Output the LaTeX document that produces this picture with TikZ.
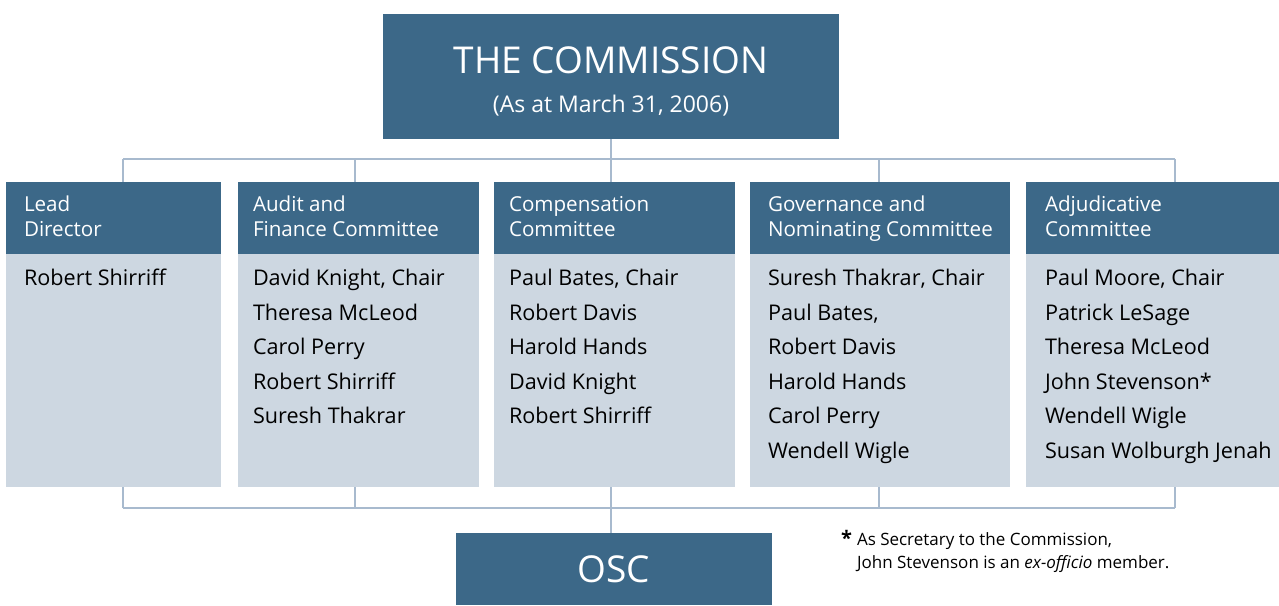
\documentclass[tikz,border=0pt]{standalone}
\usepackage{fontspec}
\setmainfont{Open Sans}
\usetikzlibrary{calc}
\definecolor{boxblue}{RGB}{60,104,136}
\definecolor{boxlight}{RGB}{205,215,225}
\definecolor{linkblue}{RGB}{168,186,206}
\newcommand\hstrut{\rule{0pt}{16pt}}
\newcommand\bstrut{\rule{0pt}{17pt}}
\begin{document}
\begin{tikzpicture}[x=1pt,y=-1pt,
  every node/.style={inner sep=0pt,outer sep=0pt},
  darkbox/.style={fill=boxblue,draw=none,anchor=north west},
  lightbox/.style={fill=boxlight,draw=none,anchor=north west},
  hdrtext/.style={text=white,align=left,anchor=north west,
    font=\fontsize{20.6pt}{25pt}\selectfont},
  bodytext/.style={text=black,align=left,anchor=north west,
    font=\fontsize{21.6pt}{34.6pt}\selectfont},
  link/.style={draw=linkblue,line width=2pt}]
\useasboundingbox (0,0) rectangle (1279,605);

% the Commission
\node[darkbox,minimum width=456pt,minimum height=125pt] (comm) at (383,14) {};
\node[text=white,anchor=base,font=\fontsize{37pt}{40pt}\selectfont] (commtitle) at (611,73) {THE COMMISSION};
\node[text=white,anchor=base,font=\fontsize{23pt}{28pt}\selectfont] (commdate) at (611,112) {(As at March 31, 2006)};

% column headers
\node[darkbox,minimum width=215pt,minimum height=72pt] (h1) at (6,182) {};
\node[darkbox,minimum width=241pt,minimum height=72pt] (h2) at (238,182) {};
\node[darkbox,minimum width=241pt,minimum height=72pt] (h3) at (494,182) {};
\node[darkbox,minimum width=260pt,minimum height=72pt] (h4) at (750,182) {};
\node[darkbox,minimum width=253pt,minimum height=72pt] (h5) at (1026,182) {};

% column bodies
\node[lightbox,minimum width=215pt,minimum height=233pt] (b1) at (6,254) {};
\node[lightbox,minimum width=241pt,minimum height=233pt] (b2) at (238,254) {};
\node[lightbox,minimum width=241pt,minimum height=233pt] (b3) at (494,254) {};
\node[lightbox,minimum width=260pt,minimum height=233pt] (b4) at (750,254) {};
\node[lightbox,minimum width=253pt,minimum height=233pt] (b5) at (1026,254) {};

% header texts
\node[hdrtext] (h1t) at (24,195.5) {\hstrut Lead\\Director};
\node[hdrtext] (h2t) at (253,195.5) {\hstrut Audit and\\Finance Committee};
\node[hdrtext] (h3t) at (509,195.5) {\hstrut Compensation\\Committee};
\node[hdrtext] (h4t) at (768,195.5) {\hstrut Governance and\\Nominating Committee};
\node[hdrtext] (h5t) at (1045,195.5) {\hstrut Adjudicative\\Committee};

% member lists
\node[bodytext] (b1t) at (24,268.5) {\bstrut Robert Shirriff};
\node[bodytext] (b2t) at (253,268.5) {\bstrut David Knight, Chair\\Theresa McLeod\\Carol Perry\\Robert Shirriff\\Suresh Thakrar};
\node[bodytext] (b3t) at (509,268.5) {\bstrut Paul Bates, Chair\\Robert Davis\\Harold Hands\\David Knight\\Robert Shirriff};
\node[bodytext] (b4t) at (768,268.5) {\bstrut Suresh Thakrar, Chair\\Paul Bates,\\Robert Davis\\Harold Hands\\Carol Perry\\Wendell Wigle};
\node[bodytext] (b5t) at (1045,268.5) {\bstrut Paul Moore, Chair\\Patrick LeSage\\Theresa McLeod\\John Stevenson*\\Wendell Wigle\\Susan Wolburgh Jenah};

% OSC
\node[darkbox,minimum width=316pt,minimum height=72pt] (osc) at (456,533) {};
\node[text=white,anchor=base,font=\fontsize{37pt}{40pt}\selectfont] (osct) at (614,582) {OSC};

% footnote (base anchor sits on the last line)
\node[anchor=base west,align=left,font=\fontsize{17pt}{23pt}\selectfont] (note) at (857,568)
  {\llap{\fontsize{20pt}{23pt}\selectfont\textbf{*}\hspace{5pt}}As Secretary to the Commission,\\John Stevenson is an \textit{ex-officio} member.};

% connector branch points
\coordinate (tj) at (611,159);
\coordinate (bj) at (611,508);
\coordinate (t1) at (123,159);
\coordinate (t2) at (355,159);
\coordinate (t4) at (879,159);
\coordinate (t5) at (1175,159);
\coordinate (u1) at (123,508);
\coordinate (u2) at (355,508);
\coordinate (u4) at (879,508);
\coordinate (u5) at (1175,508);

% upper connectors
\draw[link] (comm.south -| tj) -- (tj);
\draw[link] (t1) -- (t5);
\draw[link] (t1) -- (t1 |- h1.north);
\draw[link] (t2) -- (t2 |- h2.north);
\draw[link] (tj) -- (tj |- h3.north);
\draw[link] (t4) -- (t4 |- h4.north);
\draw[link] (t5) -- (t5 |- h5.north);

% lower connectors
\draw[link] (u1) -- (u5);
\draw[link] (u1 |- b1.south) -- (u1);
\draw[link] (u2 |- b2.south) -- (u2);
\draw[link] (bj |- b3.south) -- (bj);
\draw[link] (u4 |- b4.south) -- (u4);
\draw[link] (u5 |- b5.south) -- (u5);
\draw[link] (bj) -- (bj |- osc.north);
\end{tikzpicture}
\end{document}
